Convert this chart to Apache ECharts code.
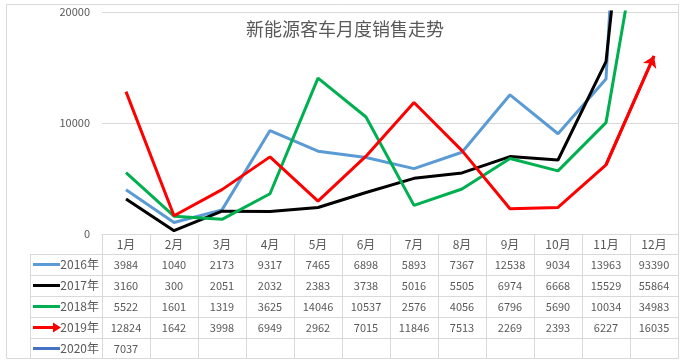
<!DOCTYPE html>
<html><head><meta charset="utf-8">
<script src="https://cdn.jsdelivr.net/npm/echarts@6/dist/echarts.min.js"></script>
<style>html,body{margin:0;padding:0;background:#fff}#c{width:683px;height:362px}</style>
</head><body><div id="c"></div>
<script>
var months = ['1月','2月','3月','4月','5月','6月','7月','8月','9月','10月','11月','12月'];
var yearNames = ['2016年','2017年','2018年','2019年','2020年'];
var s2016 = [3984,1040,2173,9317,7465,6898,5893,7367,12538,9034,13963,93390];
var s2017 = [3160,300,2051,2032,2383,3738,5016,5505,6974,6668,15529,55864];
var s2018 = [5522,1601,1319,3625,14046,10537,2576,4056,6796,5690,10034,34983];
var s2019 = [12824,1642,3998,6949,2962,7015,11846,7513,2269,2393,6227,16035];
var s2020 = [7037];
var yTicks = [0,10000,20000];
var colors = ['#5b9bd5','#000000','#00b050','#ff0000','#4472c4'];
var allSeries = [s2016,s2017,s2018,s2019,s2020];

var FONT = '"Noto Sans CJK SC", "Noto Sans", sans-serif';
var TXT = '#595959', LN = '#d9d9d9';
var GL = 102, GR = 678, GT = 12, GB = 234;
var HEAD = 20, ROW = 21;

var chart = echarts.init(document.getElementById('c'));
var xAxes = [{
  type:'category', data: months, gridIndex:0, position:'bottom', boundaryGap:true,
  axisLine:{show:true, lineStyle:{color:LN, width:1}},
  axisTick:{show:true, length:HEAD, lineStyle:{color:LN}},
  axisLabel:{interval:0, margin:4, fontSize:12, color:TXT, fontFamily:FONT},
  splitLine:{show:false}
}];
allSeries.forEach(function(arr, i){
  xAxes.push({
    type:'category', data: months, gridIndex:0, position:'bottom', offset: HEAD + ROW*i, boundaryGap:true,
    axisLine:{show:true, lineStyle:{color:LN, width:1}},
    axisTick:{show:true, length: (i===4? 20 : ROW), lineStyle:{color:LN}},
    axisLabel:{interval:0, margin:5, fontSize:11, color:TXT, fontFamily:FONT,
      formatter:(function(a){ return function(v, idx){ return a[idx] === undefined ? '' : String(a[idx]); }; })(arr)},
    splitLine:{show:false}
  });
});
xAxes.push({
  type:'category', data: months, gridIndex:0, position:'bottom', offset: HEAD + ROW*4 + 20, boundaryGap:true,
  axisLine:{show:true, lineStyle:{color:LN, width:1}},
  axisTick:{show:false}, axisLabel:{show:false}, splitLine:{show:false}
});

var series = allSeries.map(function(arr, i){
  return {
    name: yearNames[i], type:'line', xAxisIndex:0, yAxisIndex:0, data: arr,
    symbol:'none', showSymbol:false, smooth:false, clip:true,
    lineStyle:{color:colors[i], width:3}, itemStyle:{color:colors[i]}, z: 2 + i
  };
});
series.push({
  type:'lines', coordinateSystem:'cartesian2d', xAxisIndex:0, yAxisIndex:0,
  symbol:['none','arrow'], symbolSize:11, z:10,
  lineStyle:{color:colors[3], width:3, opacity:1, curveness:0},
  data:[{coords:[[months[10], s2019[10]], [months[11], s2019[11]]]}]
});

var graphics = [
  {type:'rect', shape:{x:6.5,y:4.5,width:672,height:354}, style:{fill:'none', stroke:LN, lineWidth:1}, silent:true, z:-1},
  {type:'line', shape:{x1:30.5,y1:GB+HEAD,x2:30.5,y2:GB+HEAD+ROW*4+20}, style:{stroke:LN, lineWidth:1}}
];
for (var r = 0; r <= 5; r++) {
  var yy = GB + HEAD + ROW*r + (r===5 ? -1 : 0);
  graphics.push({type:'line', shape:{x1:30, y1:yy+0.5, x2:GL, y2:yy+0.5}, style:{stroke:LN, lineWidth:1}});
}
yearNames.forEach(function(n, i){
  var cy = GB + HEAD + ROW*i + ROW/2;
  graphics.push({type:'line', shape:{x1:33, y1:cy, x2:(i===3?55:60), y2:cy}, style:{stroke:colors[i], lineWidth:3}});
  if (i===3) graphics.push({type:'polygon', shape:{points:[[53,cy-5],[61,cy],[53,cy+5]]}, style:{fill:colors[3]}});
  graphics.push({type:'text', style:{text:n, x:99, y:cy, align:'right', verticalAlign:'middle', fontSize:12, fill:TXT, fontFamily:FONT}});
});

chart.setOption({
  backgroundColor:'#fff',
  animation:false,
  title:{text:'新能源客车月度销售走势', left:241, top:15,
    textStyle:{fontSize:18, fontWeight:'normal', color:TXT, fontFamily:FONT}},
  grid:{left:GL, right:683-GR, top:GT, bottom:362-GB, containLabel:false},
  xAxis: xAxes,
  yAxis:{type:'value', min:yTicks[0], max:yTicks[yTicks.length-1], interval:yTicks[1]-yTicks[0],
    axisLine:{show:false}, axisTick:{show:false},
    axisLabel:{margin:12, fontSize:11, color:TXT, fontFamily:FONT, formatter:function(v){ return String(v); }},
    splitLine:{show:true, lineStyle:{color:LN, width:1}}},
  series: series,
  graphic: graphics
});
</script></body></html>
